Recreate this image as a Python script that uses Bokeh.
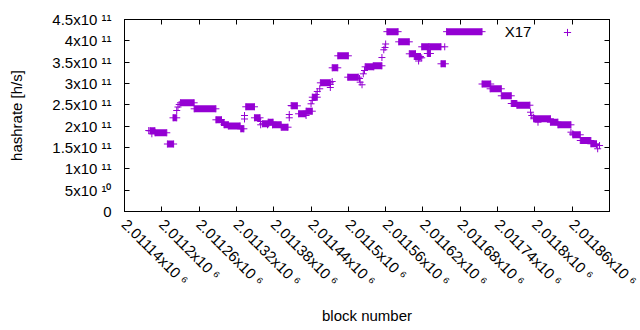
import numpy as np
from bokeh.plotting import figure
from bokeh.models import (ColumnDataSource, Range1d, FixedTicker, LinearAxis,
                          Legend, LegendItem, CustomJSTickFormatter, Label)
from bokeh.embed import file_html
from bokeh.resources import INLINE

# ---- data (block number, hashrate in units of 1e9 h/s) ----
# runs of consecutive blocks sharing (nearly) the same estimate: start, end, value
run_start = [2011181, 2011189, 2011209, 2011218, 2011230, 2011252, 2011287, 2011296,
             2011300, 2011307, 2011327, 2011335, 2011349, 2011362, 2011371, 2011378,
             2011392, 2011409, 2011420, 2011432, 2011442, 2011455, 2011474, 2011483,
             2011499, 2011527, 2011540, 2011562, 2011581, 2011598, 2011606, 2011618,
             2011627, 2011630, 2011649, 2011658, 2011715, 2011728, 2011746, 2011762,
             2011771, 2011798, 2011825, 2011837, 2011861, 2011873, 2011890]
run_end = [2011189, 2011208, 2011219, 2011224, 2011252, 2011287, 2011296, 2011300,
           2011307, 2011326, 2011332, 2011349, 2011358, 2011372, 2011379, 2011392,
           2011403, 2011418, 2011431, 2011442, 2011450, 2011471, 2011483, 2011500,
           2011516, 2011541, 2011554, 2011580, 2011598, 2011608, 2011616, 2011629,
           2011632, 2011649, 2011656, 2011715, 2011729, 2011746, 2011762, 2011771,
           2011792, 2011825, 2011837, 2011858, 2011873, 2011890, 2011899]
run_value = [189.1, 184.5, 158.2, 219.6, 254.8, 240.7, 214.9, 208.6,
             203.4, 200.4, 193.8, 245.4, 219.6, 205.6, 209.3, 203.2,
             197.6, 247.7, 229.0, 235.1, 267.9, 301.6, 336.8, 364.9,
             314.8, 339.1, 341.5, 421.5, 397.7, 369.6, 363.3, 386.0,
             370.3, 386.0, 346.2, 421.5, 298.8, 287.6, 271.2, 253.1,
             249.1, 217.3, 209.3, 203.2, 179.8, 166.4, 158.7]

# isolated blocks
point_block = [2011179, 2011184, 2011224, 2011226, 2011228, 2011333, 2011333,
               2011359, 2011359, 2011370, 2011405, 2011405, 2011408, 2011432,
               2011440, 2011442, 2011448, 2011450, 2011454, 2011471, 2011471,
               2011474, 2011518, 2011519, 2011522, 2011524, 2011526, 2011554,
               2011557, 2011559, 2011560, 2011613, 2011615, 2011618, 2011655,
               2011793, 2011795, 2011798, 2011805, 2011858, 2011861, 2011899,
               2011901, 2011904]
point_value = [189.8, 182.1, 236.7, 244.9, 250.8, 225.0, 216.8,
               210.9, 203.2, 203.2, 227.3, 219.6, 248.4, 225.0,
               252.4, 260.2, 274.2, 281.3, 287.6, 297.7, 290.6,
               304.7, 311.7, 303.1, 297.0, 322.7, 330.5, 360.9,
               379.0, 384.4, 392.6, 352.7, 360.2, 360.2, 386.0,
               232.7, 225.0, 221.0, 209.3, 185.9, 182.1, 157.0,
               147.0, 154.7]

x_tick_values = [2011140, 2011200, 2011260, 2011320, 2011380, 2011440, 2011500,
                 2011560, 2011620, 2011680, 2011740, 2011800, 2011860, 2011920]
x_tick_labels = ["2.01114x10 \u2076", "2.0112x10 \u2076", "2.01126x10 \u2076",
                 "2.01132x10 \u2076", "2.01138x10 \u2076", "2.01144x10 \u2076",
                 "2.0115x10 \u2076", "2.01156x10 \u2076", "2.01162x10 \u2076",
                 "2.01168x10 \u2076", "2.01174x10 \u2076", "2.0118x10 \u2076",
                 "2.01186x10 \u2076", "2.01192x10 \u2076"]
y_tick_values = [0, 5e10, 1e11, 1.5e11, 2e11, 2.5e11, 3e11, 3.5e11, 4e11, 4.5e11]
y_tick_labels = ["0", "5x10 \u00b9\u2070", "1x10 \u00b9\u00b9", "1.5x10 \u00b9\u00b9",
                 "2x10 \u00b9\u00b9", "2.5x10 \u00b9\u00b9", "3x10 \u00b9\u00b9",
                 "3.5x10 \u00b9\u00b9", "4x10 \u00b9\u00b9", "4.5x10 \u00b9\u00b9"]

series_name = "X17"
x_title = "block number"
y_title = "hashrate [h/s]"

# ---- styling ----
COLOR = "#9400d3"
FONT = "Liberation Sans"
FS = "15px"

p = figure(width=640, height=330, output_backend="svg", toolbar_location=None,
           x_range=Range1d(2011140, 2011920), y_range=Range1d(0, 4.5e11),
           min_border_left=124, min_border_right=31, min_border_top=19,
           min_border_bottom=119, background_fill_color="white",
           border_fill_color="white")
p.outline_line_color = "black"
p.outline_line_width = 1
p.grid.visible = False

runs = ColumnDataSource(dict(x0=run_start, x1=run_end,
                             y=np.array(run_value) * 1e9))
p.segment(x0="x0", y0="y", x1="x1", y1="y", source=runs, line_width=7,
          line_cap="butt", line_color=COLOR)
ends = ColumnDataSource(dict(x=run_start + run_end,
                             y=np.concatenate([run_value, run_value]) * 1e9))
p.scatter(x="x", y="y", source=ends, marker="cross", size=7, line_color=COLOR,
          line_width=1)
pts = ColumnDataSource(dict(x=point_block, y=np.array(point_value) * 1e9))
r_pts = p.scatter(x="x", y="y", source=pts, marker="cross", size=7,
                  line_color=COLOR, line_width=1)
# invisible renderer that only carries the legend text
r_key = p.scatter(x=[], y=[], marker="cross", size=7, line_alpha=0, fill_alpha=0)

def style_axis(ax):
    ax.axis_line_color = "black"
    ax.major_tick_line_color = "black"
    ax.major_tick_in = 5
    ax.major_tick_out = 0
    ax.minor_tick_line_color = None
    ax.major_label_text_font = FONT
    ax.major_label_text_font_size = FS
    ax.major_label_text_color = "black"
    ax.axis_label_text_font = FONT
    ax.axis_label_text_font_size = FS
    ax.axis_label_text_font_style = "normal"
    ax.axis_label_text_color = "black"

LABEL_STANDOFF = 10
xa = p.xaxis[0]
xa.ticker = FixedTicker(ticks=x_tick_values)
# the last label runs off the canvas; it is drawn separately below so that it is
# clipped by the edge instead of being pushed inside
overrides = {v: s for v, s in zip(x_tick_values, x_tick_labels)}
overrides[x_tick_values[-1]] = ""
xa.major_label_overrides = overrides
xa.major_label_orientation = -np.pi / 4
xa.major_label_standoff = LABEL_STANDOFF
xa.axis_label = x_title
xa.axis_label_standoff = 9
style_axis(xa)

p.add_layout(Label(x=x_tick_values[-1], y=-LABEL_STANDOFF, y_units="screen",
                   text=x_tick_labels[-1], angle=-np.pi / 4,
                   text_align="left", text_baseline="middle",
                   text_font=FONT, text_font_size=FS, text_color="black"))

ya = p.yaxis[0]
ya.ticker = FixedTicker(ticks=y_tick_values)
ya.major_label_overrides = {v: s for v, s in zip(y_tick_values, y_tick_labels)}
ya.major_label_standoff = 13
ya.axis_label = y_title
ya.axis_label_standoff = 24
style_axis(ya)

blank = CustomJSTickFormatter(code="return ''")
top = LinearAxis(ticker=FixedTicker(ticks=x_tick_values), formatter=blank)
right = LinearAxis(ticker=FixedTicker(ticks=y_tick_values), formatter=blank)
for ax in (top, right):
    style_axis(ax)
    ax.major_label_text_font_size = "0px"
    ax.major_label_standoff = 0
p.add_layout(top, "above")
p.add_layout(right, "right")

key_text = Legend(items=[LegendItem(label=series_name, renderers=[r_key])],
                  location=(379.7, 170.5), padding=0, margin=0, spacing=0,
                  glyph_width=1, glyph_height=18, label_standoff=0,
                  border_line_color=None, background_fill_alpha=0,
                  label_text_font=FONT, label_text_font_size=FS,
                  label_text_color="black")
key_mark = Legend(items=[LegendItem(label=" ", renderers=[r_pts])],
                  location=(433.7, 170.5), padding=0, margin=0, spacing=0,
                  glyph_width=18, glyph_height=18, label_standoff=0,
                  border_line_color=None, background_fill_alpha=0,
                  label_text_font=FONT, label_text_font_size=FS)
p.add_layout(key_text, "center")
p.add_layout(key_mark, "center")

open("out.html", "w").write(file_html(p, INLINE))
